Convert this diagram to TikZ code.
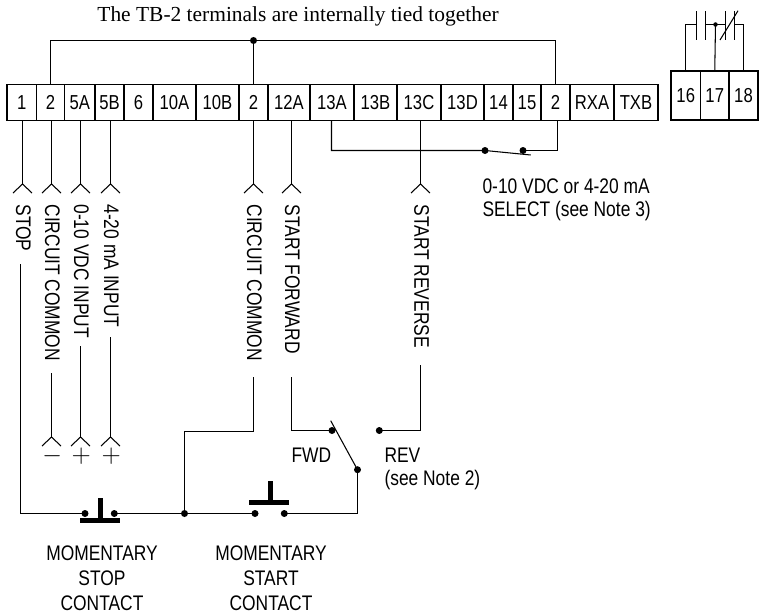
\documentclass[tikz,border=0pt]{standalone}
\usepackage{fontspec}
\setmainfont{Liberation Sans}[FakeStretch=0.825]
\newfontfamily\titlefont{Liberation Serif}
\tikzset{
    cell/.style={draw, inner sep=0pt, outer sep=0pt, minimum height=36*0.02cm, font=\fontsize{11.5}{12}\selectfont},
    dot/.style={circle, fill=black, inner sep=0pt, minimum size=0.14cm},
    smalldot/.style={circle, fill=black, inner sep=0pt, minimum size=0.09cm},
    lab/.style={font=\fontsize{12}{14.2}\selectfont, inner sep=0pt},
    sidelab/.style={lab, rotate=-90, anchor=west},
    bar/.style={fill=black, draw=none, inner sep=0pt},
    plug/.pic={\draw (-9.5,9) -- (0,0) -- (9.5,9);}
}
\begin{document}
\begin{tikzpicture}[x=0.02cm, y=-0.02cm, line width=0.6pt, black]
    \useasboundingbox (0,0) rectangle (759,615);

    % terminal strips
    \foreach \id/\xa/\xb/\lab in {ta/7/36.5/1, tb/36.5/64.5/2, tc/64.5/95/5A, td/95/124/5B, te/124/153/6,
        tf/153/196/10A, tg/196/239/10B, th/239/268/2, ti/268/310/12A, tj/310/354/13A, tk/354/397/13B,
        tl/397/441/13C, tm/441/484/13D, tn/484/513/14, to/513/541/15, tp/541/570/2, tq/570/614/RXA, tr/614/658/TXB}
        \node[cell, minimum width={(\xb-\xa)*0.02cm}] (\id) at ({(\xa+\xb)/2},102.5) {\lab};
    \foreach \id/\xa/\xb/\lab in {ra/671/700.5/16, rb/700.5/729/17, rc/729/758/18}
        \node[cell, minimum width={(\xb-\xa)*0.02cm}, minimum height=49*0.02cm] (\id) at ({(\xa+\xb)/2},95.5) {\lab};

    \node[font=\titlefont\fontsize{12.2}{13}\selectfont, inner sep=0pt] (title) at (298,16) {The TB-2 terminals are internally tied together};

    % tie line
    \node[dot] (tie) at (253.5,40.5) {};
    \draw (tb.north) |- (tie.center) -| (tp.north);
    \draw (tie.center) -- (th.north);

    % upper plugs and side labels
    \foreach \id/\x/\from/\lab in {a/22.5/ta/STOP, b/51.5/tb/CIRCUIT COMMON, c/80.5/tc/0-10 VDC INPUT, d/110.5/td/4-20 mA INPUT,
        e/253.5/th/CIRCUIT COMMON, f/291.5/ti/START FORWARD, g/420.5/tl/START REVERSE} {
        \coordinate (up\id) at (\x,184);
        \draw (up\id |- \from.south) -- (up\id);
        \pic at (up\id) {plug};
        \node[sidelab] (lab\id) at (\x+1,204) {\lab};
    }

    % lower plugs with signs
    \foreach \id/\x/\lab in {b/51.5/$-$, c/80.5/$+$, d/110.5/$+$} {
        \coordinate (lo\id) at (\x,437);
        \pic at (lo\id) {plug};
        \node[font=\fontsize{14}{14}\selectfont, inner sep=0pt] (sign\id) at (\x+0.7,456) {\lab};
    }
    \coordinate (endb) at (51.5,373);
    \coordinate (endc) at (80.5,346);
    \coordinate (endd) at (110.5,337);
    \draw (endb) -- (lob);
    \draw (endc) -- (loc);
    \draw (endd) -- (lod);

    % stop and start contacts
    \coordinate (enda) at (20.5,264);
    \node[dot] (stopl) at (85,513.5) {};
    \node[dot] (stopr) at (114.3,513.5) {};
    \node[dot] (join) at (184.5,513.5) {};
    \node[dot] (startl) at (255,513.5) {};
    \node[dot] (startr) at (284.3,513.5) {};
    \draw (enda) |- (stopl.center);
    \draw (stopr.center) -- (join.center) -- (startl.center);
    \node[bar, minimum width=40*0.02cm, minimum height=5*0.02cm] (stopbar) at (99.5,520) {};
    \node[bar, minimum width=5*0.02cm, minimum height=21*0.02cm] (stopstem) at (100,508) {};
    \node[bar, minimum width=40*0.02cm, minimum height=5.5*0.02cm] (startbar) at (269.3,502.5) {};
    \node[bar, minimum width=5*0.02cm, minimum height=20*0.02cm] (startstem) at (270.3,490.5) {};

    \coordinate (ende) at (253.5,377);
    \coordinate (bend) at (184.5,431.5);
    \draw (ende) |- (bend) -- (join.center);

    % forward/reverse selector
    \coordinate (endf) at (291.5,377);
    \coordinate (endg) at (420.5,365);
    \coordinate (bladetop) at (330.7,420.7);
    \node[dot] (fwd) at (332,430.5) {};
    \node[dot] (rev) at (379.3,430.5) {};
    \node[dot] (pivot) at (357.5,469.7) {};
    \draw (endf) |- (fwd.center);
    \draw (endg) |- (rev.center);
    \draw (bladetop) -- (pivot.center);
    \draw (pivot.center) |- (startr.center);

    % select switch
    \node[dot] (sela) at (485,150.5) {};
    \node[dot] (selb) at (523,150.5) {};
    \coordinate (seltip) at (530.7,155);
    \coordinate (selfoot) at (331.5,120.5);
    \coordinate (selhead) at (557.5,120.5);
    \draw (selfoot) |- (sela.center) -- (seltip);
    \draw (selb.center) -| (selhead);

    % relay contacts
    \node[smalldot] (relay) at (715.5,24.5) {};
    \coordinate (pla) at (696.5,24.5);
    \coordinate (plb) at (705.5,24.5);
    \coordinate (plc) at (725.5,24.5);
    \coordinate (pld) at (734.5,24.5);
    \draw (ra.north) |- (pla);
    \draw (plb) -- (relay.center) -- (plc);
    \draw (pld) -| (rc.north);
    \draw (relay.center) -- (rb.north);
    \foreach \p in {pla, plb, plc, pld}
        \draw ([yshift=0.27cm]\p) -- ([yshift=-0.31cm]\p);
    \coordinate (slasha) at (720,40);
    \coordinate (slashb) at (738,10.7);
    \draw (slasha) -- (slashb);

    % labels
    \node[lab, anchor=west] (selone) at (482,186) {0-10 VDC or 4-20 mA};
    \node[lab, anchor=west] (seltwo) at (482,211) {SELECT (see Note 3)};
    \node[lab, anchor=west] (fwdlab) at (291,455) {FWD};
    \node[lab, anchor=west] (revlab) at (384,455) {REV};
    \node[lab, anchor=west] (notelab) at (384,480) {(see Note 2)};
    \node[lab, align=center] (stoplab) at (102,578) {MOMENTARY\\STOP\\CONTACT};
    \node[lab, align=center] (startlab) at (271,578) {MOMENTARY\\START\\CONTACT};
\end{tikzpicture}
\end{document}
